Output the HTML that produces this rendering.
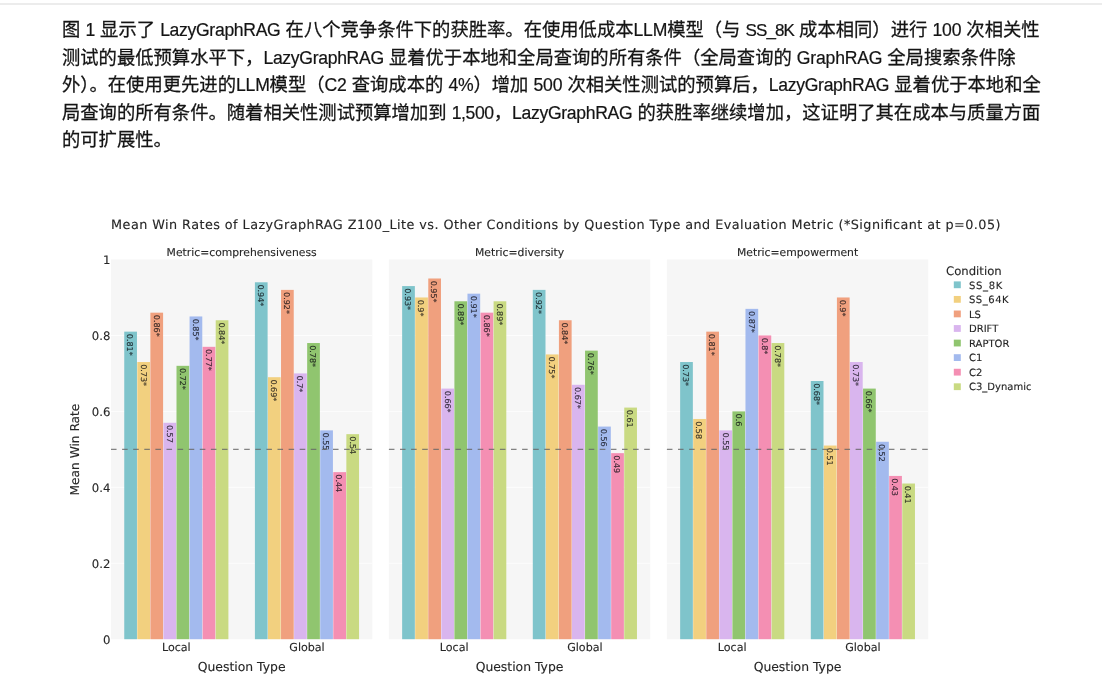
<!DOCTYPE html>
<html lang="zh-CN">
<head>
<meta charset="utf-8">
<title>LazyGraphRAG</title>
<style>
html,body{margin:0;padding:0;background:#fff;}
body{width:1102px;height:700px;position:relative;overflow:hidden;}
.topline{position:absolute;left:0;top:3px;width:1102px;height:2px;background:#ececec;}
.para{position:absolute;left:62px;top:16.4px;margin:0;width:1000px;font-family:"Liberation Sans","Noto Sans CJK SC",sans-serif;font-size:18.32px;line-height:27.4px;color:#141414;-webkit-text-stroke:0.26px #141414;white-space:nowrap;}
.para span{display:block;height:27.43px;}
.para b{font-weight:normal;font-size:17.6px;-webkit-text-stroke:0.2px #141414;}
</style>
</head>
<body>
<div class="topline"></div>
<p class="para">
<span class="l1">图 <b class="en" style="letter-spacing:-0.2px">1</b> 显示了 <b class="en" style="letter-spacing:-0.32px">LazyGraphRAG</b> 在八个竞争条件下的获胜率。在使用低成本<b class="en" style="letter-spacing:-0.2px">LLM</b>模型（与 <b class="en" style="font-size:17px;letter-spacing:-0.88px">SS_8K</b> 成本相同）进行 <b class="en" style="letter-spacing:-0.17px">100</b> 次相关性</span>
<span class="l2">测试的最低预算水平下，<b class="en" style="letter-spacing:-0.32px">LazyGraphRAG</b> 显着优于本地和全局查询的所有条件（全局查询的 <b class="en" style="letter-spacing:-0.21px">GraphRAG</b> 全局搜索条件除</span>
<span class="l3">外）。在使用更先进的<b class="en" style="letter-spacing:-0.2px">LLM</b>模型（<b class="en" style="letter-spacing:-0.2px">C2</b> 查询成本的 <b class="en" style="letter-spacing:-0.2px">4%</b>）增加 <b class="en" style="letter-spacing:-0.17px">500</b> 次相关性测试的预算后，<b class="en" style="letter-spacing:-0.32px">LazyGraphRAG</b> 显着优于本地和全</span>
<span class="l4">局查询的所有条件。随着相关性测试预算增加到 <b class="en" style="letter-spacing:-0.39px">1,500</b>，<b class="en" style="letter-spacing:-0.32px">LazyGraphRAG</b> 的获胜率继续增加，这证明了其在成本与质量方面</span>
<span class="l5">的可扩展性。</span>
</p>
<svg width="1102" height="700" viewBox="0 0 1102 700" style="position:absolute;left:0;top:0" font-family="'DejaVu Sans', 'Liberation Sans', sans-serif" fill="#262626" stroke="#262626" stroke-width="0.12" text-rendering="geometricPrecision">
<text x="111.1" y="228.5" font-size="12.8" textLength="889.4" lengthAdjust="spacing">Mean Win Rates of LazyGraphRAG Z100_Lite vs. Other Conditions by Question Type and Evaluation Metric (*Significant at p=0.05)</text>
<rect x="111.00" y="259.5" width="261.3" height="379.70" fill="#f6f6f6" stroke="none"/>
<line x1="111.00" x2="372.30" y1="563.26" y2="563.26" stroke="#ffffff" stroke-opacity="0.85" stroke-width="0.9"/>
<line x1="111.00" x2="372.30" y1="487.32" y2="487.32" stroke="#ffffff" stroke-opacity="0.85" stroke-width="0.9"/>
<line x1="111.00" x2="372.30" y1="411.38" y2="411.38" stroke="#ffffff" stroke-opacity="0.85" stroke-width="0.9"/>
<line x1="111.00" x2="372.30" y1="335.44" y2="335.44" stroke="#ffffff" stroke-opacity="0.85" stroke-width="0.9"/>
<text x="241.65" y="255.5" font-size="10.8" text-anchor="middle">Metric=comprehensiveness</text>
<rect x="124.25" y="331.64" width="12.71" height="307.56" fill="#7fc4cb" stroke="none"/>
<text transform="translate(130.60,333.84) rotate(90)" font-size="8" dy="3.15" fill="#233338" stroke="#233338" stroke-width="0.15">0.81*</text>
<rect x="137.31" y="362.02" width="12.71" height="277.18" fill="#f2d07f" stroke="none"/>
<text transform="translate(143.66,364.22) rotate(90)" font-size="8" dy="3.15" fill="#3d3527" stroke="#3d3527" stroke-width="0.15">0.73*</text>
<rect x="150.38" y="312.66" width="12.71" height="326.54" fill="#f0a07e" stroke="none"/>
<text transform="translate(156.73,314.86) rotate(90)" font-size="8" dy="3.15" fill="#3c2b27" stroke="#3c2b27" stroke-width="0.15">0.86*</text>
<rect x="163.44" y="422.77" width="12.71" height="216.43" fill="#d9b5ee" stroke="none"/>
<text transform="translate(169.79,424.97) rotate(90)" font-size="8" dy="3.15" fill="#372f40" stroke="#372f40" stroke-width="0.15">0.57</text>
<rect x="176.50" y="365.82" width="12.71" height="273.38" fill="#90c56f" stroke="none"/>
<text transform="translate(182.86,368.02) rotate(90)" font-size="8" dy="3.15" fill="#273324" stroke="#273324" stroke-width="0.15">0.72*</text>
<rect x="189.57" y="316.46" width="12.71" height="322.75" fill="#a3baee" stroke="none"/>
<text transform="translate(195.92,318.66) rotate(90)" font-size="8" dy="3.15" fill="#2b3040" stroke="#2b3040" stroke-width="0.15">0.85*</text>
<rect x="202.64" y="346.83" width="12.71" height="292.37" fill="#f48fb3" stroke="none"/>
<text transform="translate(208.99,349.03) rotate(90)" font-size="8" dy="3.15" fill="#3d2733" stroke="#3d2733" stroke-width="0.15">0.77*</text>
<rect x="215.70" y="320.25" width="12.71" height="318.95" fill="#c9da82" stroke="none"/>
<text transform="translate(222.05,322.45) rotate(90)" font-size="8" dy="3.15" fill="#343728" stroke="#343728" stroke-width="0.15">0.84*</text>
<text x="176.32" y="650.9" font-size="11.1" text-anchor="middle">Local</text>
<rect x="254.90" y="282.28" width="12.71" height="356.92" fill="#7fc4cb" stroke="none"/>
<text transform="translate(261.25,284.48) rotate(90)" font-size="8" dy="3.15" fill="#233338" stroke="#233338" stroke-width="0.15">0.94*</text>
<rect x="267.96" y="377.21" width="12.71" height="261.99" fill="#f2d07f" stroke="none"/>
<text transform="translate(274.31,379.41) rotate(90)" font-size="8" dy="3.15" fill="#3d3527" stroke="#3d3527" stroke-width="0.15">0.69*</text>
<rect x="281.03" y="289.88" width="12.71" height="349.32" fill="#f0a07e" stroke="none"/>
<text transform="translate(287.38,292.08) rotate(90)" font-size="8" dy="3.15" fill="#3c2b27" stroke="#3c2b27" stroke-width="0.15">0.92*</text>
<rect x="294.09" y="373.41" width="12.71" height="265.79" fill="#d9b5ee" stroke="none"/>
<text transform="translate(300.44,375.61) rotate(90)" font-size="8" dy="3.15" fill="#372f40" stroke="#372f40" stroke-width="0.15">0.7*</text>
<rect x="307.16" y="343.03" width="12.71" height="296.17" fill="#90c56f" stroke="none"/>
<text transform="translate(313.51,345.23) rotate(90)" font-size="8" dy="3.15" fill="#273324" stroke="#273324" stroke-width="0.15">0.78*</text>
<rect x="320.22" y="430.37" width="12.71" height="208.84" fill="#a3baee" stroke="none"/>
<text transform="translate(326.57,432.56) rotate(90)" font-size="8" dy="3.15" fill="#2b3040" stroke="#2b3040" stroke-width="0.15">0.55</text>
<rect x="333.29" y="472.13" width="12.71" height="167.07" fill="#f48fb3" stroke="none"/>
<text transform="translate(339.64,474.33) rotate(90)" font-size="8" dy="3.15" fill="#3d2733" stroke="#3d2733" stroke-width="0.15">0.44</text>
<rect x="346.35" y="434.16" width="12.71" height="205.04" fill="#c9da82" stroke="none"/>
<text transform="translate(352.70,436.36) rotate(90)" font-size="8" dy="3.15" fill="#343728" stroke="#343728" stroke-width="0.15">0.54</text>
<text x="306.98" y="650.9" font-size="11.1" text-anchor="middle">Global</text>
<text x="241.65" y="670.8" font-size="12.4" text-anchor="middle">Question Type</text>
<line x1="111.00" x2="372.30" y1="449.35" y2="449.35" stroke="#666" stroke-opacity="0.8" stroke-width="1.15" stroke-dasharray="5.55 5.55"/>
<rect x="388.90" y="259.5" width="261.3" height="379.70" fill="#f6f6f6" stroke="none"/>
<line x1="388.90" x2="650.20" y1="563.26" y2="563.26" stroke="#ffffff" stroke-opacity="0.85" stroke-width="0.9"/>
<line x1="388.90" x2="650.20" y1="487.32" y2="487.32" stroke="#ffffff" stroke-opacity="0.85" stroke-width="0.9"/>
<line x1="388.90" x2="650.20" y1="411.38" y2="411.38" stroke="#ffffff" stroke-opacity="0.85" stroke-width="0.9"/>
<line x1="388.90" x2="650.20" y1="335.44" y2="335.44" stroke="#ffffff" stroke-opacity="0.85" stroke-width="0.9"/>
<text x="519.55" y="255.5" font-size="10.8" text-anchor="middle">Metric=diversity</text>
<rect x="402.14" y="286.08" width="12.71" height="353.12" fill="#7fc4cb" stroke="none"/>
<text transform="translate(408.50,288.28) rotate(90)" font-size="8" dy="3.15" fill="#233338" stroke="#233338" stroke-width="0.15">0.93*</text>
<rect x="415.21" y="297.47" width="12.71" height="341.73" fill="#f2d07f" stroke="none"/>
<text transform="translate(421.56,299.67) rotate(90)" font-size="8" dy="3.15" fill="#3d3527" stroke="#3d3527" stroke-width="0.15">0.9*</text>
<rect x="428.27" y="278.49" width="12.71" height="360.72" fill="#f0a07e" stroke="none"/>
<text transform="translate(434.63,280.69) rotate(90)" font-size="8" dy="3.15" fill="#3c2b27" stroke="#3c2b27" stroke-width="0.15">0.95*</text>
<rect x="441.34" y="388.60" width="12.71" height="250.60" fill="#d9b5ee" stroke="none"/>
<text transform="translate(447.69,390.80) rotate(90)" font-size="8" dy="3.15" fill="#372f40" stroke="#372f40" stroke-width="0.15">0.66*</text>
<rect x="454.40" y="301.27" width="12.71" height="337.93" fill="#90c56f" stroke="none"/>
<text transform="translate(460.76,303.47) rotate(90)" font-size="8" dy="3.15" fill="#273324" stroke="#273324" stroke-width="0.15">0.89*</text>
<rect x="467.47" y="293.67" width="12.71" height="345.53" fill="#a3baee" stroke="none"/>
<text transform="translate(473.82,295.87) rotate(90)" font-size="8" dy="3.15" fill="#2b3040" stroke="#2b3040" stroke-width="0.15">0.91*</text>
<rect x="480.54" y="312.66" width="12.71" height="326.54" fill="#f48fb3" stroke="none"/>
<text transform="translate(486.89,314.86) rotate(90)" font-size="8" dy="3.15" fill="#3d2733" stroke="#3d2733" stroke-width="0.15">0.86*</text>
<rect x="493.60" y="301.27" width="12.71" height="337.93" fill="#c9da82" stroke="none"/>
<text transform="translate(499.95,303.47) rotate(90)" font-size="8" dy="3.15" fill="#343728" stroke="#343728" stroke-width="0.15">0.89*</text>
<text x="454.22" y="650.9" font-size="11.1" text-anchor="middle">Local</text>
<rect x="532.79" y="289.88" width="12.71" height="349.32" fill="#7fc4cb" stroke="none"/>
<text transform="translate(539.15,292.08) rotate(90)" font-size="8" dy="3.15" fill="#233338" stroke="#233338" stroke-width="0.15">0.92*</text>
<rect x="545.86" y="354.43" width="12.71" height="284.78" fill="#f2d07f" stroke="none"/>
<text transform="translate(552.21,356.62) rotate(90)" font-size="8" dy="3.15" fill="#3d3527" stroke="#3d3527" stroke-width="0.15">0.75*</text>
<rect x="558.92" y="320.25" width="12.71" height="318.95" fill="#f0a07e" stroke="none"/>
<text transform="translate(565.28,322.45) rotate(90)" font-size="8" dy="3.15" fill="#3c2b27" stroke="#3c2b27" stroke-width="0.15">0.84*</text>
<rect x="571.99" y="384.80" width="12.71" height="254.40" fill="#d9b5ee" stroke="none"/>
<text transform="translate(578.34,387.00) rotate(90)" font-size="8" dy="3.15" fill="#372f40" stroke="#372f40" stroke-width="0.15">0.67*</text>
<rect x="585.05" y="350.63" width="12.71" height="288.57" fill="#90c56f" stroke="none"/>
<text transform="translate(591.41,352.83) rotate(90)" font-size="8" dy="3.15" fill="#273324" stroke="#273324" stroke-width="0.15">0.76*</text>
<rect x="598.12" y="426.57" width="12.71" height="212.63" fill="#a3baee" stroke="none"/>
<text transform="translate(604.47,428.77) rotate(90)" font-size="8" dy="3.15" fill="#2b3040" stroke="#2b3040" stroke-width="0.15">0.56</text>
<rect x="611.18" y="453.15" width="12.71" height="186.05" fill="#f48fb3" stroke="none"/>
<text transform="translate(617.54,455.35) rotate(90)" font-size="8" dy="3.15" fill="#3d2733" stroke="#3d2733" stroke-width="0.15">0.49</text>
<rect x="624.25" y="407.58" width="12.71" height="231.62" fill="#c9da82" stroke="none"/>
<text transform="translate(630.60,409.78) rotate(90)" font-size="8" dy="3.15" fill="#343728" stroke="#343728" stroke-width="0.15">0.61</text>
<text x="584.88" y="650.9" font-size="11.1" text-anchor="middle">Global</text>
<text x="519.55" y="670.8" font-size="12.4" text-anchor="middle">Question Type</text>
<line x1="388.90" x2="650.20" y1="449.35" y2="449.35" stroke="#666" stroke-opacity="0.8" stroke-width="1.15" stroke-dasharray="5.55 5.55"/>
<rect x="666.90" y="259.5" width="261.3" height="379.70" fill="#f6f6f6" stroke="none"/>
<line x1="666.90" x2="928.20" y1="563.26" y2="563.26" stroke="#ffffff" stroke-opacity="0.85" stroke-width="0.9"/>
<line x1="666.90" x2="928.20" y1="487.32" y2="487.32" stroke="#ffffff" stroke-opacity="0.85" stroke-width="0.9"/>
<line x1="666.90" x2="928.20" y1="411.38" y2="411.38" stroke="#ffffff" stroke-opacity="0.85" stroke-width="0.9"/>
<line x1="666.90" x2="928.20" y1="335.44" y2="335.44" stroke="#ffffff" stroke-opacity="0.85" stroke-width="0.9"/>
<text x="797.55" y="255.5" font-size="10.8" text-anchor="middle">Metric=empowerment</text>
<rect x="680.14" y="362.02" width="12.71" height="277.18" fill="#7fc4cb" stroke="none"/>
<text transform="translate(686.50,364.22) rotate(90)" font-size="8" dy="3.15" fill="#233338" stroke="#233338" stroke-width="0.15">0.73*</text>
<rect x="693.21" y="418.97" width="12.71" height="220.23" fill="#f2d07f" stroke="none"/>
<text transform="translate(699.56,421.17) rotate(90)" font-size="8" dy="3.15" fill="#3d3527" stroke="#3d3527" stroke-width="0.15">0.58</text>
<rect x="706.27" y="331.64" width="12.71" height="307.56" fill="#f0a07e" stroke="none"/>
<text transform="translate(712.63,333.84) rotate(90)" font-size="8" dy="3.15" fill="#3c2b27" stroke="#3c2b27" stroke-width="0.15">0.81*</text>
<rect x="719.34" y="430.37" width="12.71" height="208.84" fill="#d9b5ee" stroke="none"/>
<text transform="translate(725.69,432.56) rotate(90)" font-size="8" dy="3.15" fill="#372f40" stroke="#372f40" stroke-width="0.15">0.55</text>
<rect x="732.40" y="411.38" width="12.71" height="227.82" fill="#90c56f" stroke="none"/>
<text transform="translate(738.76,413.58) rotate(90)" font-size="8" dy="3.15" fill="#273324" stroke="#273324" stroke-width="0.15">0.6</text>
<rect x="745.47" y="308.86" width="12.71" height="330.34" fill="#a3baee" stroke="none"/>
<text transform="translate(751.82,311.06) rotate(90)" font-size="8" dy="3.15" fill="#2b3040" stroke="#2b3040" stroke-width="0.15">0.87*</text>
<rect x="758.53" y="335.44" width="12.71" height="303.76" fill="#f48fb3" stroke="none"/>
<text transform="translate(764.89,337.64) rotate(90)" font-size="8" dy="3.15" fill="#3d2733" stroke="#3d2733" stroke-width="0.15">0.8*</text>
<rect x="771.60" y="343.03" width="12.71" height="296.17" fill="#c9da82" stroke="none"/>
<text transform="translate(777.95,345.23) rotate(90)" font-size="8" dy="3.15" fill="#343728" stroke="#343728" stroke-width="0.15">0.78*</text>
<text x="732.23" y="650.9" font-size="11.1" text-anchor="middle">Local</text>
<rect x="810.79" y="381.00" width="12.71" height="258.20" fill="#7fc4cb" stroke="none"/>
<text transform="translate(817.15,383.20) rotate(90)" font-size="8" dy="3.15" fill="#233338" stroke="#233338" stroke-width="0.15">0.68*</text>
<rect x="823.86" y="445.55" width="12.71" height="193.65" fill="#f2d07f" stroke="none"/>
<text transform="translate(830.21,447.75) rotate(90)" font-size="8" dy="3.15" fill="#3d3527" stroke="#3d3527" stroke-width="0.15">0.51</text>
<rect x="836.92" y="297.47" width="12.71" height="341.73" fill="#f0a07e" stroke="none"/>
<text transform="translate(843.28,299.67) rotate(90)" font-size="8" dy="3.15" fill="#3c2b27" stroke="#3c2b27" stroke-width="0.15">0.9*</text>
<rect x="849.99" y="362.02" width="12.71" height="277.18" fill="#d9b5ee" stroke="none"/>
<text transform="translate(856.34,364.22) rotate(90)" font-size="8" dy="3.15" fill="#372f40" stroke="#372f40" stroke-width="0.15">0.73*</text>
<rect x="863.05" y="388.60" width="12.71" height="250.60" fill="#90c56f" stroke="none"/>
<text transform="translate(869.41,390.80) rotate(90)" font-size="8" dy="3.15" fill="#273324" stroke="#273324" stroke-width="0.15">0.66*</text>
<rect x="876.12" y="441.76" width="12.71" height="197.44" fill="#a3baee" stroke="none"/>
<text transform="translate(882.47,443.96) rotate(90)" font-size="8" dy="3.15" fill="#2b3040" stroke="#2b3040" stroke-width="0.15">0.52</text>
<rect x="889.18" y="475.93" width="12.71" height="163.27" fill="#f48fb3" stroke="none"/>
<text transform="translate(895.54,478.13) rotate(90)" font-size="8" dy="3.15" fill="#3d2733" stroke="#3d2733" stroke-width="0.15">0.43</text>
<rect x="902.25" y="483.52" width="12.71" height="155.68" fill="#c9da82" stroke="none"/>
<text transform="translate(908.60,485.72) rotate(90)" font-size="8" dy="3.15" fill="#343728" stroke="#343728" stroke-width="0.15">0.41</text>
<text x="862.88" y="650.9" font-size="11.1" text-anchor="middle">Global</text>
<text x="797.55" y="670.8" font-size="12.4" text-anchor="middle">Question Type</text>
<line x1="666.90" x2="928.20" y1="449.35" y2="449.35" stroke="#666" stroke-opacity="0.8" stroke-width="1.15" stroke-dasharray="5.55 5.55"/>
<text x="110.4" y="643.50" font-size="11.7" text-anchor="end">0</text>
<text x="110.4" y="567.56" font-size="11.7" text-anchor="end">0.2</text>
<text x="110.4" y="491.62" font-size="11.7" text-anchor="end">0.4</text>
<text x="110.4" y="415.68" font-size="11.7" text-anchor="end">0.6</text>
<text x="110.4" y="339.74" font-size="11.7" text-anchor="end">0.8</text>
<text x="110.4" y="263.80" font-size="11.7" text-anchor="end">1</text>
<text transform="translate(79,449.55) rotate(-90)" font-size="12.2" text-anchor="middle">Mean Win Rate</text>
<text x="946.1" y="274.5" font-size="11.65">Condition</text>
<rect x="953.8" y="281.40" width="7" height="6.8" fill="#7fc4cb" stroke="none"/>
<text x="969.0" y="288.50" font-size="10" textLength="33.2" lengthAdjust="spacing">SS_8K</text>
<rect x="953.8" y="295.96" width="7" height="6.8" fill="#f2d07f" stroke="none"/>
<text x="969.0" y="303.06" font-size="10" textLength="39.6" lengthAdjust="spacing">SS_64K</text>
<rect x="953.8" y="310.52" width="7" height="6.8" fill="#f0a07e" stroke="none"/>
<text x="969.0" y="317.62" font-size="10">LS</text>
<rect x="953.8" y="325.08" width="7" height="6.8" fill="#d9b5ee" stroke="none"/>
<text x="969.0" y="332.18" font-size="10">DRIFT</text>
<rect x="953.8" y="339.64" width="7" height="6.8" fill="#90c56f" stroke="none"/>
<text x="969.0" y="346.74" font-size="10">RAPTOR</text>
<rect x="953.8" y="354.20" width="7" height="6.8" fill="#a3baee" stroke="none"/>
<text x="969.0" y="361.30" font-size="10">C1</text>
<rect x="953.8" y="368.76" width="7" height="6.8" fill="#f48fb3" stroke="none"/>
<text x="969.0" y="375.86" font-size="10">C2</text>
<rect x="953.8" y="383.32" width="7" height="6.8" fill="#c9da82" stroke="none"/>
<text x="969.0" y="390.42" font-size="10">C3_Dynamic</text>
</svg>
</body>
</html>
